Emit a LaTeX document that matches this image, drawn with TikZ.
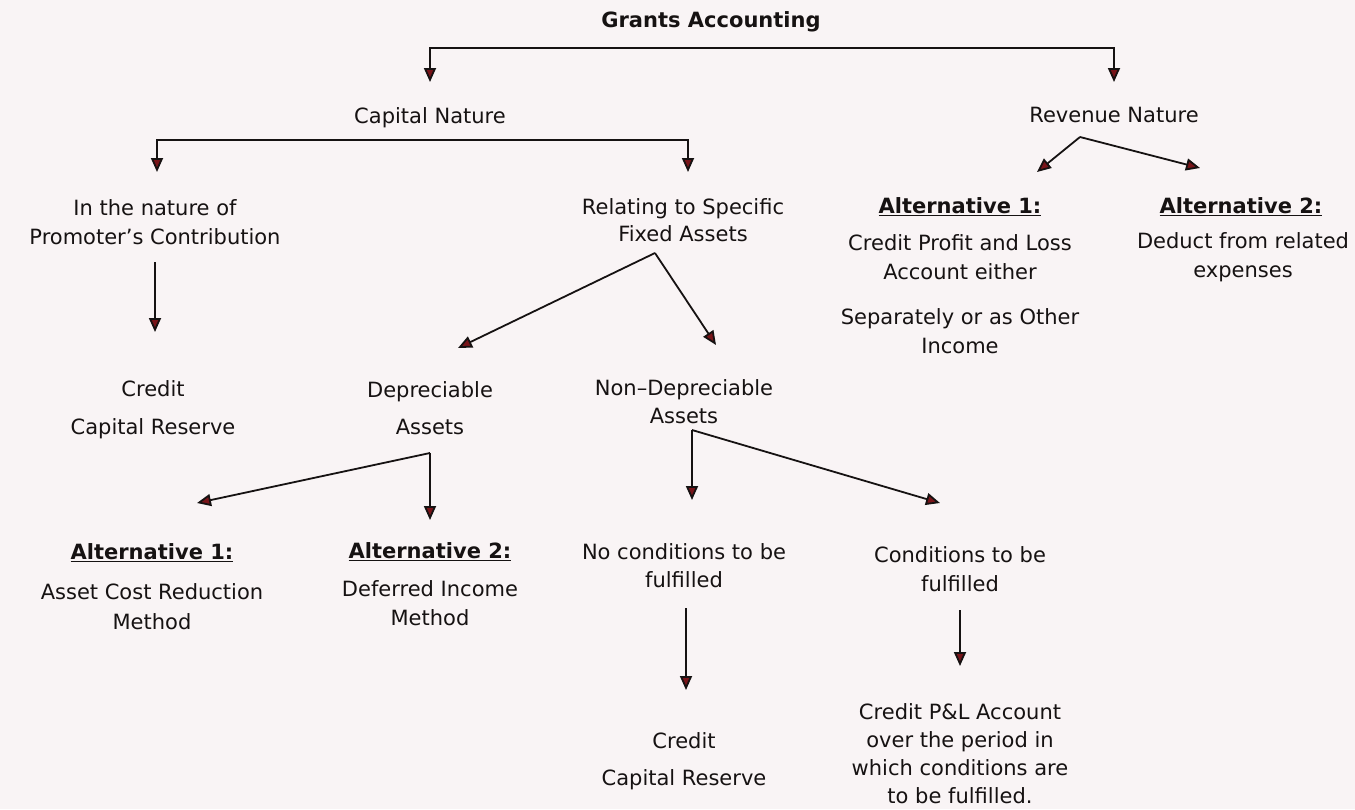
\documentclass[tikz,border=0pt]{standalone}
\usepackage{fontspec}
\setmainfont{DejaVu Sans}
\usetikzlibrary{arrows.meta}
\definecolor{paper}{RGB}{249,244,245}
\definecolor{ink}{RGB}{22,18,18}
\definecolor{arrowred}{RGB}{120,20,25}
\tikzset{
  txt/.style={text=ink, align=center, inner sep=0pt, font=\fontsize{21}{29}\selectfont},
  head/.style={txt, font=\fontsize{21}{29}\selectfont\bfseries},
  ln/.style={draw=ink, line width=1.8pt},
  arr/.style={ln, -{Triangle[length=14pt,width=12pt,fill=arrowred]}},
}
\begin{document}
\begin{tikzpicture}[x=1pt,y=-1pt]
\fill[paper] (0,0) rectangle (1355,809);
\useasboundingbox (0,0) rectangle (1355,809);

% texts
\node[head] (title) at (711,22) {Grants Accounting};
\node[txt] (capnat) at (430,118) {Capital Nature};
\node[txt] (revnat) at (1114,115) {Revenue Nature};

\node[txt] (promo) at (155,222) {In the nature of\\Promoter’s Contribution};
\node[txt] (relating) at (683,220) {Relating to Specific\\[-2pt]Fixed Assets};

\node[head] (ralt1) at (960,207) {\underline{Alternative 1:}};
\node[txt] (rcpl) at (960,257) {Credit Profit and Loss\\Account either};
\node[txt] (rsep) at (960,331) {Separately or as Other\\Income};
\node[head] (ralt2) at (1241,207) {\underline{Alternative 2:}};
\node[txt] (rded) at (1243,257) {Deduct from related\\expenses};

\node[txt] (credit1) at (153,410) {Credit\\[9pt]Capital Reserve};
\node[txt] (dep) at (430,408) {Depreciable\\[8pt]Assets};
\node[txt] (nondep) at (684,402) {Non–Depreciable\\[-1pt]Assets};

\node[head] (lalt1) at (152,553) {\underline{Alternative 1:}};
\node[txt] (acr) at (152,607) {Asset Cost Reduction\\[1pt]Method};
\node[head] (lalt2) at (430,552) {\underline{Alternative 2:}};
\node[txt] (dim) at (430,603) {Deferred Income\\Method};

\node[txt] (nocond) at (684,566) {No conditions to be\\[-1pt]fulfilled};
\node[txt] (cond) at (960,569) {Conditions to be\\fulfilled};

\node[txt] (credit2) at (684,761) {Credit\\[8pt]Capital Reserve};
\node[txt] (cpl) at (960,754) {Credit P\&L Account\\[-1pt]over the period in\\[-1pt]which conditions are\\[-1pt]to be fulfilled.};

% junctions and arrow ends
\coordinate (topbar) at (772,48);
\coordinate (capnat-in) at (430,82);
\coordinate (revnat-in) at (1114,82);
\coordinate (capbar) at (430,140);
\coordinate (promo-in) at (157,172);
\coordinate (relating-in) at (688,172);
\coordinate (revsplit) at (1080,137);
\coordinate (ralt1-in) at (1037,172);
\coordinate (ralt2-in) at (1200,168);
\coordinate (relsplit) at (655,253);
\coordinate (dep-in) at (458,348);
\coordinate (nondep-in) at (716,345);
\coordinate (promo-out) at (155,262);
\coordinate (credit1-in) at (155,332);
\coordinate (depsplit) at (430,453);
\coordinate (lalt1-in) at (197,503);
\coordinate (lalt2-in) at (430,520);
\coordinate (nondepsplit) at (692,430);
\coordinate (nocond-in) at (692,500);
\coordinate (cond-in) at (940,503);
\coordinate (nocond-out) at (686,608);
\coordinate (credit2-in) at (686,690);
\coordinate (cond-out) at (960,610);
\coordinate (cpl-in) at (960,666);

% connectors
\draw[arr] (topbar) -| (capnat-in);
\draw[arr] (topbar) -| (revnat-in);
\draw[arr] (capbar) -| (promo-in);
\draw[arr] (capbar) -| (relating-in);
\draw[arr] (revsplit) -- (ralt1-in);
\draw[arr] (revsplit) -- (ralt2-in);
\draw[arr] (relsplit) -- (dep-in);
\draw[arr] (relsplit) -- (nondep-in);
\draw[arr] (promo-out) -- (credit1-in);
\draw[arr] (depsplit) -- (lalt1-in);
\draw[arr] (depsplit) -- (lalt2-in);
\draw[arr] (nondepsplit) -- (nocond-in);
\draw[arr] (nondepsplit) -- (cond-in);
\draw[arr] (nocond-out) -- (credit2-in);
\draw[arr] (cond-out) -- (cpl-in);
\end{tikzpicture}
\end{document}
